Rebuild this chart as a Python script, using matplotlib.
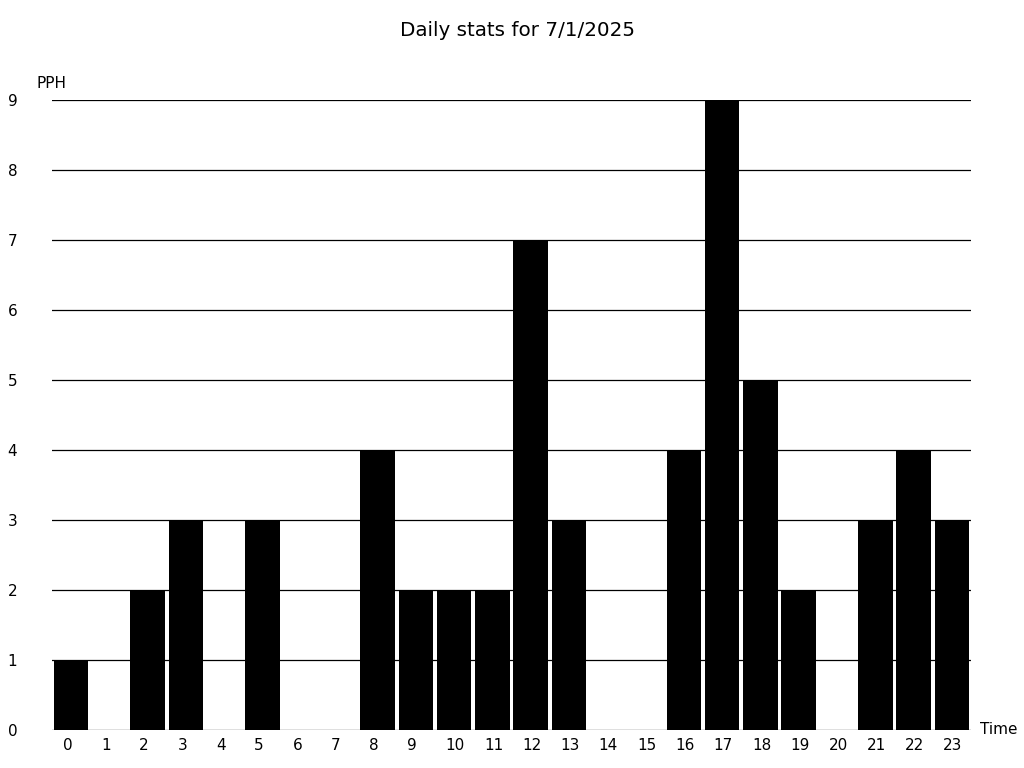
import matplotlib
matplotlib.use("Agg")
import matplotlib.pyplot as plt
import matplotlib.transforms as mtransforms

hours = list(range(24))
pph = [1, 0, 2, 3, 0, 3, 0, 0, 4, 2, 2, 2, 7, 3, 0, 0, 4, 9, 5, 2, 0, 3, 4, 3]
yticks = list(range(10))
title = "Daily stats for 7/1/2025"

fig = plt.figure(figsize=(10.24, 7.68), dpi=100)
ax = fig.add_axes([52/1024, 38/768, (971-52)/1024, (730-100)/768])
ax.set_axisbelow(True)
ax.bar(hours, pph, width=0.9, color="black", zorder=2)
ax.set_xlim(-0.5, 23.5)
ax.set_ylim(0, 9)
ax.set_yticks(yticks)
ax.set_xticks(hours)
ax.yaxis.grid(True, color="black", linewidth=0.9)
for s in ax.spines.values():
    s.set_visible(False)
ax.tick_params(axis="y", length=0, pad=25, labelsize=11)
ax.tick_params(axis="x", length=0, pad=6, labelsize=11)
offset = mtransforms.ScaledTranslation(-8.5/100, 0, fig.dpi_scale_trans)
for lab in ax.get_xticklabels():
    lab.set_horizontalalignment("left")
    lab.set_transform(lab.get_transform() + offset)
fig.text(517.5/1024, 1 - 30/768, title, fontsize=14.3, va="center", ha="center")
fig.text(37/1024, 1 - 84/768, "PPH", fontsize=11, va="center", ha="left")
fig.text(980/1024, 1 - 730/768, "Time", fontsize=11, va="center", ha="left")
fig.savefig("out.png", dpi=100)
